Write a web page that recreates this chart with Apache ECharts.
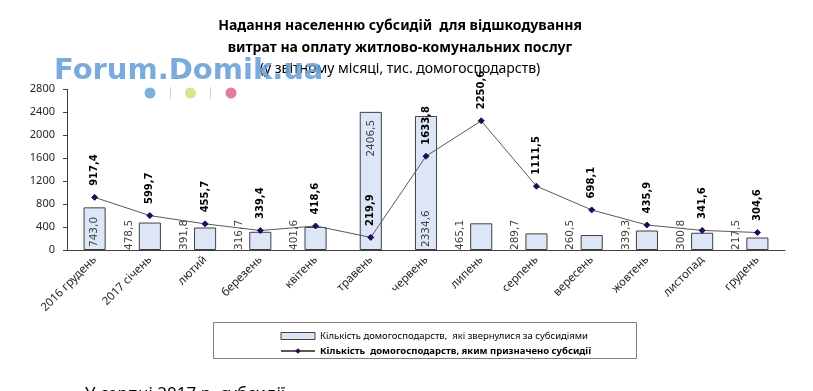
<!DOCTYPE html>
<html><head><meta charset="utf-8">
<script src="https://cdn.jsdelivr.net/npm/echarts@6/dist/echarts.min.js"></script>
<style>html,body{margin:0;padding:0;background:#fff}#c{width:813px;height:391px}</style>
</head><body><div id="c"></div>
<script>
const categories = ['2016 грудень','2017 січень','лютий','березень','квітень','травень','червень','липень','серпень','вересень','жовтень','листопад','грудень'];
const applied = [743.0, 478.5, 391.8, 316.7, 401.6, 2406.5, 2334.6, 465.1, 289.7, 260.5, 339.3, 300.8, 217.5];
const granted = [917.4, 599.7, 455.7, 339.4, 418.6, 219.9, 1633.8, 2250.6, 1111.5, 698.1, 435.9, 341.6, 304.6];
const yTicks = [0, 400, 800, 1200, 1600, 2000, 2400, 2800];
const seriesNames = ['Кількість домогосподарств,  які звернулися за субсидіями', 'Кількість  домогосподарств, яким призначено субсидії'];
const titleLines = ['Надання населенню субсидій  для відшкодування', 'витрат на оплату житлово-комунальних послуг', '(у звітному місяці, тис. домогосподарств)'];

const fmt = v => v.toFixed(1).replace('.', ',');
const insideBottomIdx = new Set([0, 6]);
const insideTopIdx = new Set([5]);

const barData = applied.map((v, i) => {
  let label;
  if (insideBottomIdx.has(i)) label = {position: 'insideBottom', distance: 3, align: 'left', verticalAlign: 'middle'};
  else if (insideTopIdx.has(i)) label = {position: 'insideTop', distance: 8, align: 'right', verticalAlign: 'middle'};
  else label = {position: [-7, '100%'], offset: [0, -3], align: 'left', verticalAlign: 'middle'};
  return {value: v, label};
});

const chart = echarts.init(document.getElementById('c'), null, {renderer: 'canvas'});
const font = 'Noto Sans';
chart.setOption({
  animation: false,
  title: [
    {text: titleLines[0], left: 395, top: 14, textAlign: 'center', textStyle: {fontFamily: font, fontSize: 14, fontWeight: 'bold', color: '#000'}},
    {text: titleLines[1], left: 395, top: 36, textAlign: 'center', textStyle: {fontFamily: font, fontSize: 14, fontWeight: 'bold', color: '#000'}},
    {text: titleLines[2], left: 395, top: 57, textAlign: 'center', textStyle: {fontFamily: font, fontSize: 14, fontWeight: 'normal', color: '#000'}}
  ],
  grid: {left: 67, right: 28, top: 89.3, bottom: 141, containLabel: false},
  xAxis: {
    type: 'category', data: categories,
    axisLine: {lineStyle: {color: '#404040', width: 1}},
    axisTick: {length: 5, lineStyle: {color: '#404040'}},
    axisLabel: {rotate: 45, fontFamily: font, fontSize: 11.5, color: '#262626', margin: 8, interval: 0}
  },
  yAxis: {
    type: 'value', min: yTicks[0], max: yTicks[yTicks.length - 1], interval: 400,
    splitLine: {show: false},
    axisLine: {show: true, lineStyle: {color: '#404040'}},
    axisTick: {show: true, length: 4, lineStyle: {color: '#404040'}},
    axisLabel: {fontFamily: font, fontSize: 11, color: '#262626', margin: 12, formatter: v => String(v)}
  },
  legend: {
    orient: 'vertical', left: 275, top: 326, itemGap: 5, itemWidth: 34, itemHeight: 7,
    textStyle: {fontFamily: font, fontSize: 9.5, color: '#000'},
    data: [
      {name: seriesNames[0], icon: 'rect', itemStyle: {borderWidth: 1, borderColor: '#404040', color: '#dce6f6'}, textStyle: {fontWeight: 'normal'}},
      {name: seriesNames[1], textStyle: {fontWeight: 'bold'}}
    ]
  },
  graphic: [
    {type: 'rect', shape: {x: 213.5, y: 322.5, width: 423, height: 36}, style: {fill: 'none', stroke: '#7f7f7f', lineWidth: 1}, z: 0},
    {type: 'text', left: 85, top: 386, style: {text: 'У серпні 2017 р. субсидії', font: '17px "Noto Sans"', fill: '#000'}},
    {type: 'text', left: 54, top: 57, z: 100, style: {text: 'Forum.Domik.ua', font: 'bold 29px "DejaVu Sans"', fill: 'rgba(102,160,214,0.88)'}},
    {type: 'circle', shape: {cx: 150, cy: 93, r: 5.5}, style: {fill: '#7eb0dc'}, z: 100},
    {type: 'circle', shape: {cx: 190.5, cy: 93, r: 5.5}, style: {fill: '#dde28c'}, z: 100},
    {type: 'circle', shape: {cx: 231, cy: 93, r: 5.5}, style: {fill: '#df7f98'}, z: 100},
    {type: 'line', shape: {x1: 170.5, y1: 87, x2: 170.5, y2: 99}, style: {stroke: '#d0d0d0', lineWidth: 1}, z: 100},
    {type: 'line', shape: {x1: 210.5, y1: 87, x2: 210.5, y2: 99}, style: {stroke: '#d0d0d0', lineWidth: 1}, z: 100}
  ],
  series: [
    {
      name: seriesNames[0], type: 'bar', data: barData, barWidth: '40%',
      itemStyle: {color: '#dce6f6', borderColor: '#404040', borderWidth: 1},
      label: {show: true, rotate: 90, formatter: p => fmt(p.value), fontFamily: 'DejaVu Sans', fontSize: 10.5, color: '#404040'}
    },
    {
      name: seriesNames[1], type: 'line', data: granted, z: 5,
      symbol: 'diamond', symbolSize: 6,
      lineStyle: {color: '#595959', width: 1},
      itemStyle: {color: '#1f0b5c', borderColor: '#1f0b5c'},
      label: {show: true, position: 'top', distance: 8, rotate: 90, align: 'left', verticalAlign: 'middle', formatter: p => fmt(p.value), fontFamily: 'DejaVu Sans', fontWeight: 'bold', fontSize: 10, color: '#000'}
    }
  ]
});
</script></body></html>
